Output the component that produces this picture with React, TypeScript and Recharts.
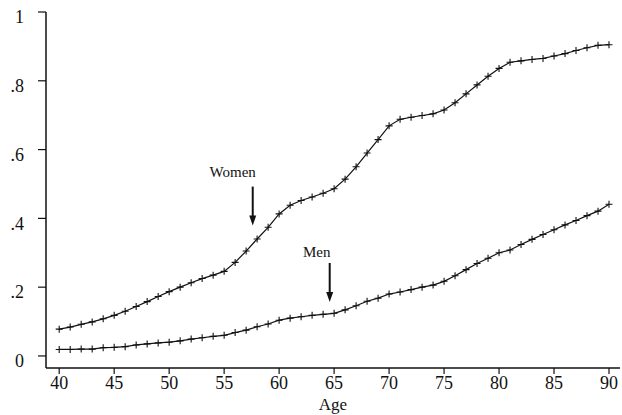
import { LineChart, Line, XAxis, YAxis, ReferenceDot } from 'recharts';

const ages = [
  40, 41, 42, 43, 44, 45, 46, 47, 48, 49,
  50, 51, 52, 53, 54, 55, 56, 57, 58, 59,
  60, 61, 62, 63, 64, 65, 66, 67, 68, 69,
  70, 71, 72, 73, 74, 75, 76, 77, 78, 79,
  80, 81, 82, 83, 84, 85, 86, 87, 88, 89, 90,
];

const women = [
  0.078, 0.084, 0.092, 0.099, 0.108, 0.118, 0.130, 0.144, 0.158, 0.173,
  0.187, 0.200, 0.213, 0.225, 0.235, 0.246, 0.272, 0.305, 0.340, 0.374,
  0.413, 0.438, 0.452, 0.462, 0.473, 0.486, 0.514, 0.550, 0.590, 0.629,
  0.669, 0.688, 0.694, 0.699, 0.704, 0.715, 0.736, 0.762, 0.788, 0.813,
  0.836, 0.854, 0.858, 0.862, 0.865, 0.872, 0.879, 0.888, 0.896, 0.903, 0.905,
];

const men = [
  0.019, 0.019, 0.020, 0.020, 0.024, 0.025, 0.027, 0.032, 0.035, 0.038,
  0.040, 0.044, 0.049, 0.053, 0.057, 0.060, 0.068, 0.075, 0.085, 0.093,
  0.104, 0.110, 0.114, 0.118, 0.121, 0.124, 0.134, 0.146, 0.159, 0.168,
  0.180, 0.186, 0.193, 0.200, 0.206, 0.217, 0.233, 0.251, 0.269, 0.284,
  0.300, 0.308, 0.324, 0.339, 0.353, 0.367, 0.381, 0.394, 0.408, 0.421, 0.441,
];

const xTicks = [40, 45, 50, 55, 60, 65, 70, 75, 80, 85, 90];
const yTicks = [0, 0.2, 0.4, 0.6, 0.8, 1];

// arrow tips in data coords, with label text
const notes = [
  { label: 'Women', age: 57.6, value: 0.379, dx: -20, dy: -52 },
  { label: 'Men', age: 64.6, value: 0.157, dx: -13, dy: -48 },
];

const data = ages.map((age, i) => ({ age, women: women[i], men: men[i] }));

const FONT = '"Liberation Serif", "DejaVu Serif", serif';
const INK = '#111';

const Plus = (props: any) => {
  const { cx, cy } = props;
  if (cx == null || cy == null) return null;
  return (
    <path
      d={`M${cx - 3.5},${cy}H${cx + 3.5}M${cx},${cy - 3.5}V${cy + 3.5}`}
      stroke={INK}
      strokeWidth={1.1}
      fill="none"
    />
  );
};

const fmtY = (v: number) => {
  if (v === 0) return '0';
  if (v === 1) return '1';
  return String(v).replace(/^0/, '');
};

const YTick = (props: any) => {
  const { x, y, payload } = props;
  return (
    <text
      x={x + 2}
      y={y + 7}
      textAnchor="end"
      dominantBaseline="middle"
      fontFamily={FONT}
      fontSize={18}
      fill={INK}
    >
      {fmtY(payload.value)}
    </text>
  );
};

const Arrow = (label: string, dx: number, dy: number) => (props: any) => {
  const { cx, cy } = props;
  if (cx == null || cy == null) return null;
  return (
    <g>
      <text
        x={cx + dx}
        y={cy + dy}
        textAnchor="middle"
        dominantBaseline="middle"
        fontFamily={FONT}
        fontSize={15}
        fill={INK}
      >
        {label}
      </text>
      <line x1={cx} y1={cy - 39} x2={cx} y2={cy - 9} stroke={INK} strokeWidth={2} />
      <path d={`M${cx - 3.5},${cy - 10}L${cx + 3.5},${cy - 10}L${cx},${cy}Z`} fill={INK} />
    </g>
  );
};

export default function App() {
  return (
    <div style={{ position: 'absolute', left: 0, top: 0, background: '#fff' }}>
      <LineChart
        width={622}
        height={415}
        data={data}
        margin={{ top: 12, right: 2, bottom: 0, left: 0 }}
      >
        <XAxis
          dataKey="age"
          type="number"
          domain={[38.8, 91]}
          ticks={xTicks}
          allowDataOverflow
          height={47}
          tickSize={6}
          tickMargin={2}
          axisLine={{ stroke: INK, strokeWidth: 1.5 }}
          tickLine={{ stroke: INK, strokeWidth: 1.2 }}
          tick={{ fill: INK, fontSize: 18, fontFamily: FONT }}
          label={{
            value: 'Age',
            position: 'insideBottom',
            offset: 5,
            fill: INK,
            fontSize: 17,
            fontFamily: FONT,
          }}
        />
        <YAxis
          type="number"
          domain={[-0.035, 1]}
          ticks={yTicks}
          allowDataOverflow
          width={46}
          tickSize={8}
          tickMargin={16}
          axisLine={{ stroke: INK, strokeWidth: 1.5 }}
          tickLine={{ stroke: INK, strokeWidth: 1.2 }}
          tick={<YTick />}
        />
        <Line
          type="linear"
          dataKey="women"
          stroke={INK}
          strokeWidth={1.2}
          dot={<Plus />}
          activeDot={false}
          isAnimationActive={false}
        />
        <Line
          type="linear"
          dataKey="men"
          stroke={INK}
          strokeWidth={1.2}
          dot={<Plus />}
          activeDot={false}
          isAnimationActive={false}
        />
        {notes.map((n) => (
          <ReferenceDot
            key={n.label}
            x={n.age}
            y={n.value}
            r={0}
            shape={Arrow(n.label, n.dx, n.dy)}
          />
        ))}
      </LineChart>
    </div>
  );
}
